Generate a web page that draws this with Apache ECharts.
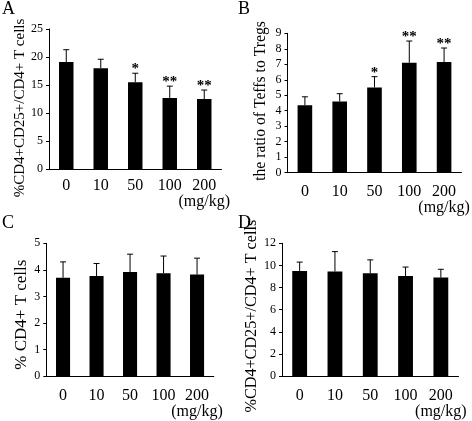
<!DOCTYPE html>
<html><head><meta charset="utf-8">
<script src="https://cdn.jsdelivr.net/npm/echarts@6/dist/echarts.min.js"></script>
<style>html,body{margin:0;padding:0;background:#fff}#c{width:472px;height:421px}</style>
</head><body><div id="c"></div>
<script>
const categories = ['0', '10', '50', '100', '200'];
const unitLabel = '(mg/kg)';
const aMean = [19.1, 18.0, 15.5, 12.7, 12.5];
const aSD   = [2.2, 1.6, 1.6, 2.1, 1.6];
const aStars = ['', '', '*', '**', '**'];
const bMean = [4.35, 4.6, 5.5, 7.1, 7.15];
const bSD   = [0.55, 0.5, 0.7, 1.4, 0.9];
const bStars = ['', '', '*', '**', '**'];
const cMean = [3.7, 3.77, 3.92, 3.87, 3.82];
const cSD   = [0.6, 0.47, 0.67, 0.65, 0.62];
const cStars = ['', '', '', '', ''];
const dMean = [9.5, 9.45, 9.3, 9.05, 8.9];
const dSD   = [0.8, 1.8, 1.2, 0.8, 0.75];
const dStars = ['', '', '', '', ''];
const yNames = ['%CD4+CD25+/CD4+ T cells', 'the ratio of Teffs to Tregs', '% CD4+ T cells', '%CD4+CD25+/CD4+ T cells'];
const yMax = [25, 9, 5, 12];
const yInt = [5, 1, 1, 2];
const letters = ['A', 'B', 'C', 'D'];

const FONT = '"Liberation Serif", "Times New Roman", serif';
const panels = [
  {mean: aMean, sd: aSD, stars: aStars, grid: {left: 49, top: 29, width: 172.5, height: 140}, nameGap: 17, nameSize: 15, namePad: [0, 18, 0, 0], xMargin: 9, title: {left: 2, top: 0}},
  {mean: bMean, sd: bSD, stars: bStars, grid: {left: 287.5, top: 33.3, width: 182.5, height: 139.4}, nameGap: 18.5, nameSize: 15.7, namePad: [0, 0, 0, 4], xMargin: 11, title: {left: 238, top: 0}},
  {mean: cMean, sd: cSD, stars: cStars, grid: {left: 46.3, top: 243.3, width: 167.5, height: 132.7}, nameGap: 15, nameSize: 17, namePad: [0, 10, 0, 0], xMargin: 12, title: {left: 2, top: 214}},
  {mean: dMean, sd: dSD, stars: dStars, grid: {left: 282, top: 243.3, width: 176.5, height: 132.7}, nameGap: 15, nameSize: 16.2, namePad: [0, 13, 0, 0], xMargin: 12, title: {left: 238, top: 214}}
];

const grid = [], xAxis = [], yAxis = [], series = [], title = [];
panels.forEach((p, i) => {
  grid.push(Object.assign({containLabel: false}, p.grid));
  title.push({text: letters[i], left: p.title.left, top: p.title.top, padding: 0,
    textStyle: {fontFamily: FONT, fontSize: 18, fontWeight: 'normal', color: '#000'}});
  xAxis.push({type: 'category', gridIndex: i, data: categories, boundaryGap: true,
    axisLine: {lineStyle: {color: '#000', width: 1}},
    axisTick: {inside: true, length: 3, lineStyle: {color: '#000'}},
    axisLabel: {interval: 0, color: '#000', fontFamily: FONT, fontSize: 16, margin: p.xMargin, lineHeight: 16,
      formatter: (v, idx) => idx === categories.length - 1 ? v + '\n' + unitLabel : v}});
  yAxis.push({type: 'value', gridIndex: i, min: 0, max: yMax[i], interval: yInt[i],
    name: yNames[i], nameLocation: 'middle', nameGap: p.nameGap,
    nameTextStyle: {color: '#000', fontFamily: FONT, fontSize: p.nameSize, padding: p.namePad},
    splitLine: {show: false},
    axisLine: {show: true, lineStyle: {color: '#000', width: 1}},
    axisTick: {show: true, length: 3, lineStyle: {color: '#000'}},
    axisLabel: {color: '#000', fontFamily: FONT, fontSize: 12, margin: 6}});
  series.push({type: 'bar', xAxisIndex: i, yAxisIndex: i, data: p.mean, barWidth: '42%',
    itemStyle: {color: '#000'}, silent: true, animation: false});
  const stars = p.stars;
  series.push({type: 'custom', xAxisIndex: i, yAxisIndex: i, animation: false, silent: true,
    data: p.mean.map((m, k) => [k, m, p.sd[k]]),
    renderItem: (params, api) => {
      const k = api.value(0), m = api.value(1), s = api.value(2);
      const p0 = api.coord([k, m]);
      const p1 = api.coord([k, m + s]);
      const children = [
        {type: 'line', shape: {x1: p0[0], y1: p0[1], x2: p1[0], y2: p1[1]}, style: {stroke: '#000', lineWidth: 1}},
        {type: 'line', shape: {x1: p1[0] - 3, y1: p1[1], x2: p1[0] + 3, y2: p1[1]}, style: {stroke: '#000', lineWidth: 1}}
      ];
      const st = stars[params.dataIndex];
      if (st) {
        children.push({type: 'text', style: {text: st, x: p1[0], y: p1[1] - 4, align: 'center', verticalAlign: 'middle',
          fill: '#000', font: 'bold 15px ' + FONT}});
      }
      return {type: 'group', children: children};
    }});
});

const chart = echarts.init(document.getElementById('c'), null, {renderer: 'canvas'});
chart.setOption({backgroundColor: '#fff', animation: false, title, grid, xAxis, yAxis, series});
</script></body></html>
